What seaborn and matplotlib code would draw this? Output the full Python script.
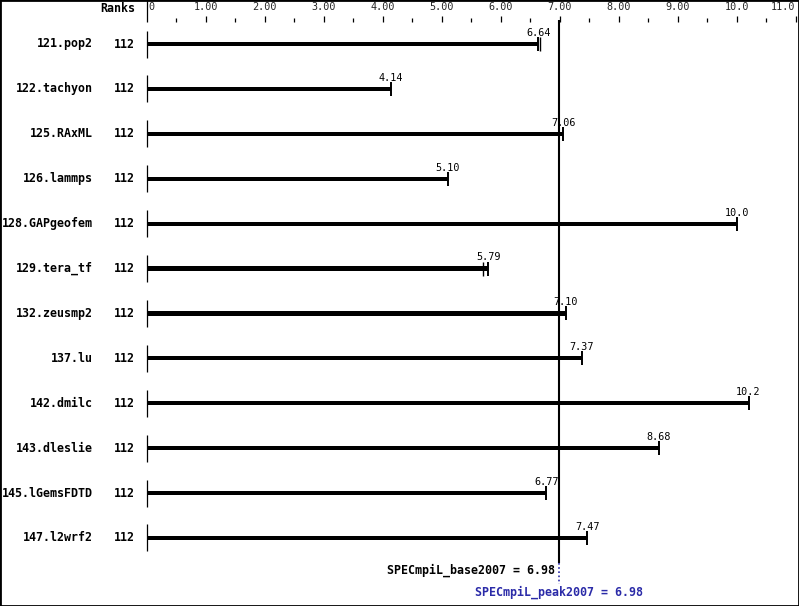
import matplotlib
matplotlib.use("Agg")
import matplotlib.pyplot as plt
from matplotlib.patches import Rectangle
import seaborn as sns
import pandas as pd

# ---- data ----
benchmarks = ["121.pop2", "122.tachyon", "125.RAxML", "126.lammps", "128.GAPgeofem",
              "129.tera_tf", "132.zeusmp2", "137.lu", "142.dmilc", "143.dleslie",
              "145.lGemsFDTD", "147.l2wrf2"]
ranks = [112, 112, 112, 112, 112, 112, 112, 112, 112, 112, 112, 112]
ratios = [6.64, 4.14, 7.06, 5.10, 10.0, 5.79, 7.10, 7.37, 10.2, 8.68, 6.77, 7.47]
ratio_labels = ["6.64", "4.14", "7.06", "5.10", "10.0", "5.79", "7.10", "7.37",
                "10.2", "8.68", "6.77", "7.47"]
other_runs = [6.67, None, None, None, None, 5.70, None, None, None, None, None, None]
tick_values = [0, 1, 2, 3, 4, 5, 6, 7, 8, 9, 10, 11]
tick_labels = ["0", "1.00", "2.00", "3.00", "4.00", "5.00", "6.00", "7.00",
               "8.00", "9.00", "10.0", "11.0"]
base_score = 6.98
peak_score = 6.98
base_label = "SPECmpiL_base2007 = 6.98"
peak_label = "SPECmpiL_peak2007 = 6.98"

# ---- layout helpers (pixel -> data) ----
X0, XS = 146.7, 59.0
Y0, YS = 44.0, 44.9
def X(p):
    return (p - X0) / XS
def Y(p):
    return (p - Y0) / YS

MONO = "DejaVu Sans Mono"
BLUE = "#2b2ba8"
SMALL = 7.3
BIG = 8.4

sns.set_theme(style="white")
plt.rcParams["font.family"] = [MONO]

fig = plt.figure(figsize=(7.99, 6.06), dpi=100)
fig.patch.set_facecolor("white")
ax = fig.add_axes([0, 0, 1, 1])

df = pd.DataFrame({"benchmark": benchmarks, "ratio": ratios, "ranks": ranks})
sns.barplot(data=df, x="ratio", y="benchmark", orient="h", color="black",
            saturation=1, width=4.2 / YS, errorbar=None, linewidth=0, ax=ax)

ax.set_xlim(X(0), X(799))
ax.set_ylim(Y(606), Y(0))
ax.axis("off")

rows = list(range(len(benchmarks)))

# end ticks
ax.vlines(ratios, [r - 7 / YS for r in rows], [r + 7 / YS for r in rows],
          color="black", lw=1.4)
for r, o in zip(rows, other_runs):
    if o is not None:
        ax.vlines(o, r - 7 / YS, r + 7 / YS, color="black", lw=1.0)

# zero-axis segments per row
ax.vlines([0] * len(rows), [r - 13.5 / YS for r in rows], [r + 13.5 / YS for r in rows],
          color="black", lw=0.9)
ax.vlines(0, Y(0), Y(22), color="black", lw=0.9)

# value labels, names, ranks
for r, v, lab, name, rk in zip(rows, ratios, ratio_labels, benchmarks, ranks):
    ax.text(v, r - 11 / YS, lab, ha="center", va="center", fontsize=SMALL,
            family=MONO, color="black")
    ax.text(X(93), r, name, ha="right", va="center", fontsize=BIG,
            family=MONO, fontweight="bold", color="black")
    ax.text(X(134.5), r, str(rk), ha="right", va="center", fontsize=BIG,
            family=MONO, fontweight="bold", color="black")

ax.text(X(135), Y(9), "Ranks", ha="right", va="center", fontsize=BIG,
        family=MONO, fontweight="bold", color="black")

# top axis ticks
for v, lab in zip(tick_values, tick_labels):
    if v > 0:
        ax.vlines(v, Y(16), Y(22), color="black", lw=0.9)
    if v < tick_values[-1]:
        ax.vlines(v + 0.5, Y(18), Y(22), color="black", lw=0.9)
    if v == 0:
        ax.text(v + 2 / XS, Y(7), lab, ha="left", va="center", fontsize=SMALL, family=MONO)
    elif v == tick_values[-1]:
        ax.text(v, Y(7), lab, ha="right", va="center", fontsize=SMALL, family=MONO)
    else:
        ax.text(v, Y(7), lab, ha="center", va="center", fontsize=SMALL, family=MONO)

# overall score lines
ax.vlines(base_score, Y(20), Y(563), color="black", lw=1.5)
ax.vlines(peak_score, Y(563), Y(584), color=BLUE, lw=1.2, linestyles=(0, (1, 1.5)))
ax.text(base_score - 4 / XS, Y(570), base_label, ha="right", va="center",
        fontsize=BIG, family=MONO, fontweight="bold", color="black")
ax.text(peak_score, Y(592), peak_label, ha="center", va="center",
        fontsize=BIG, family=MONO, fontweight="bold", color=BLUE)

# border
fig.add_artist(Rectangle((0, 0), 1, 1, transform=fig.transFigure, fill=False,
                         edgecolor="black", lw=2.0))

fig.savefig("out.png", dpi=100, facecolor="white")
